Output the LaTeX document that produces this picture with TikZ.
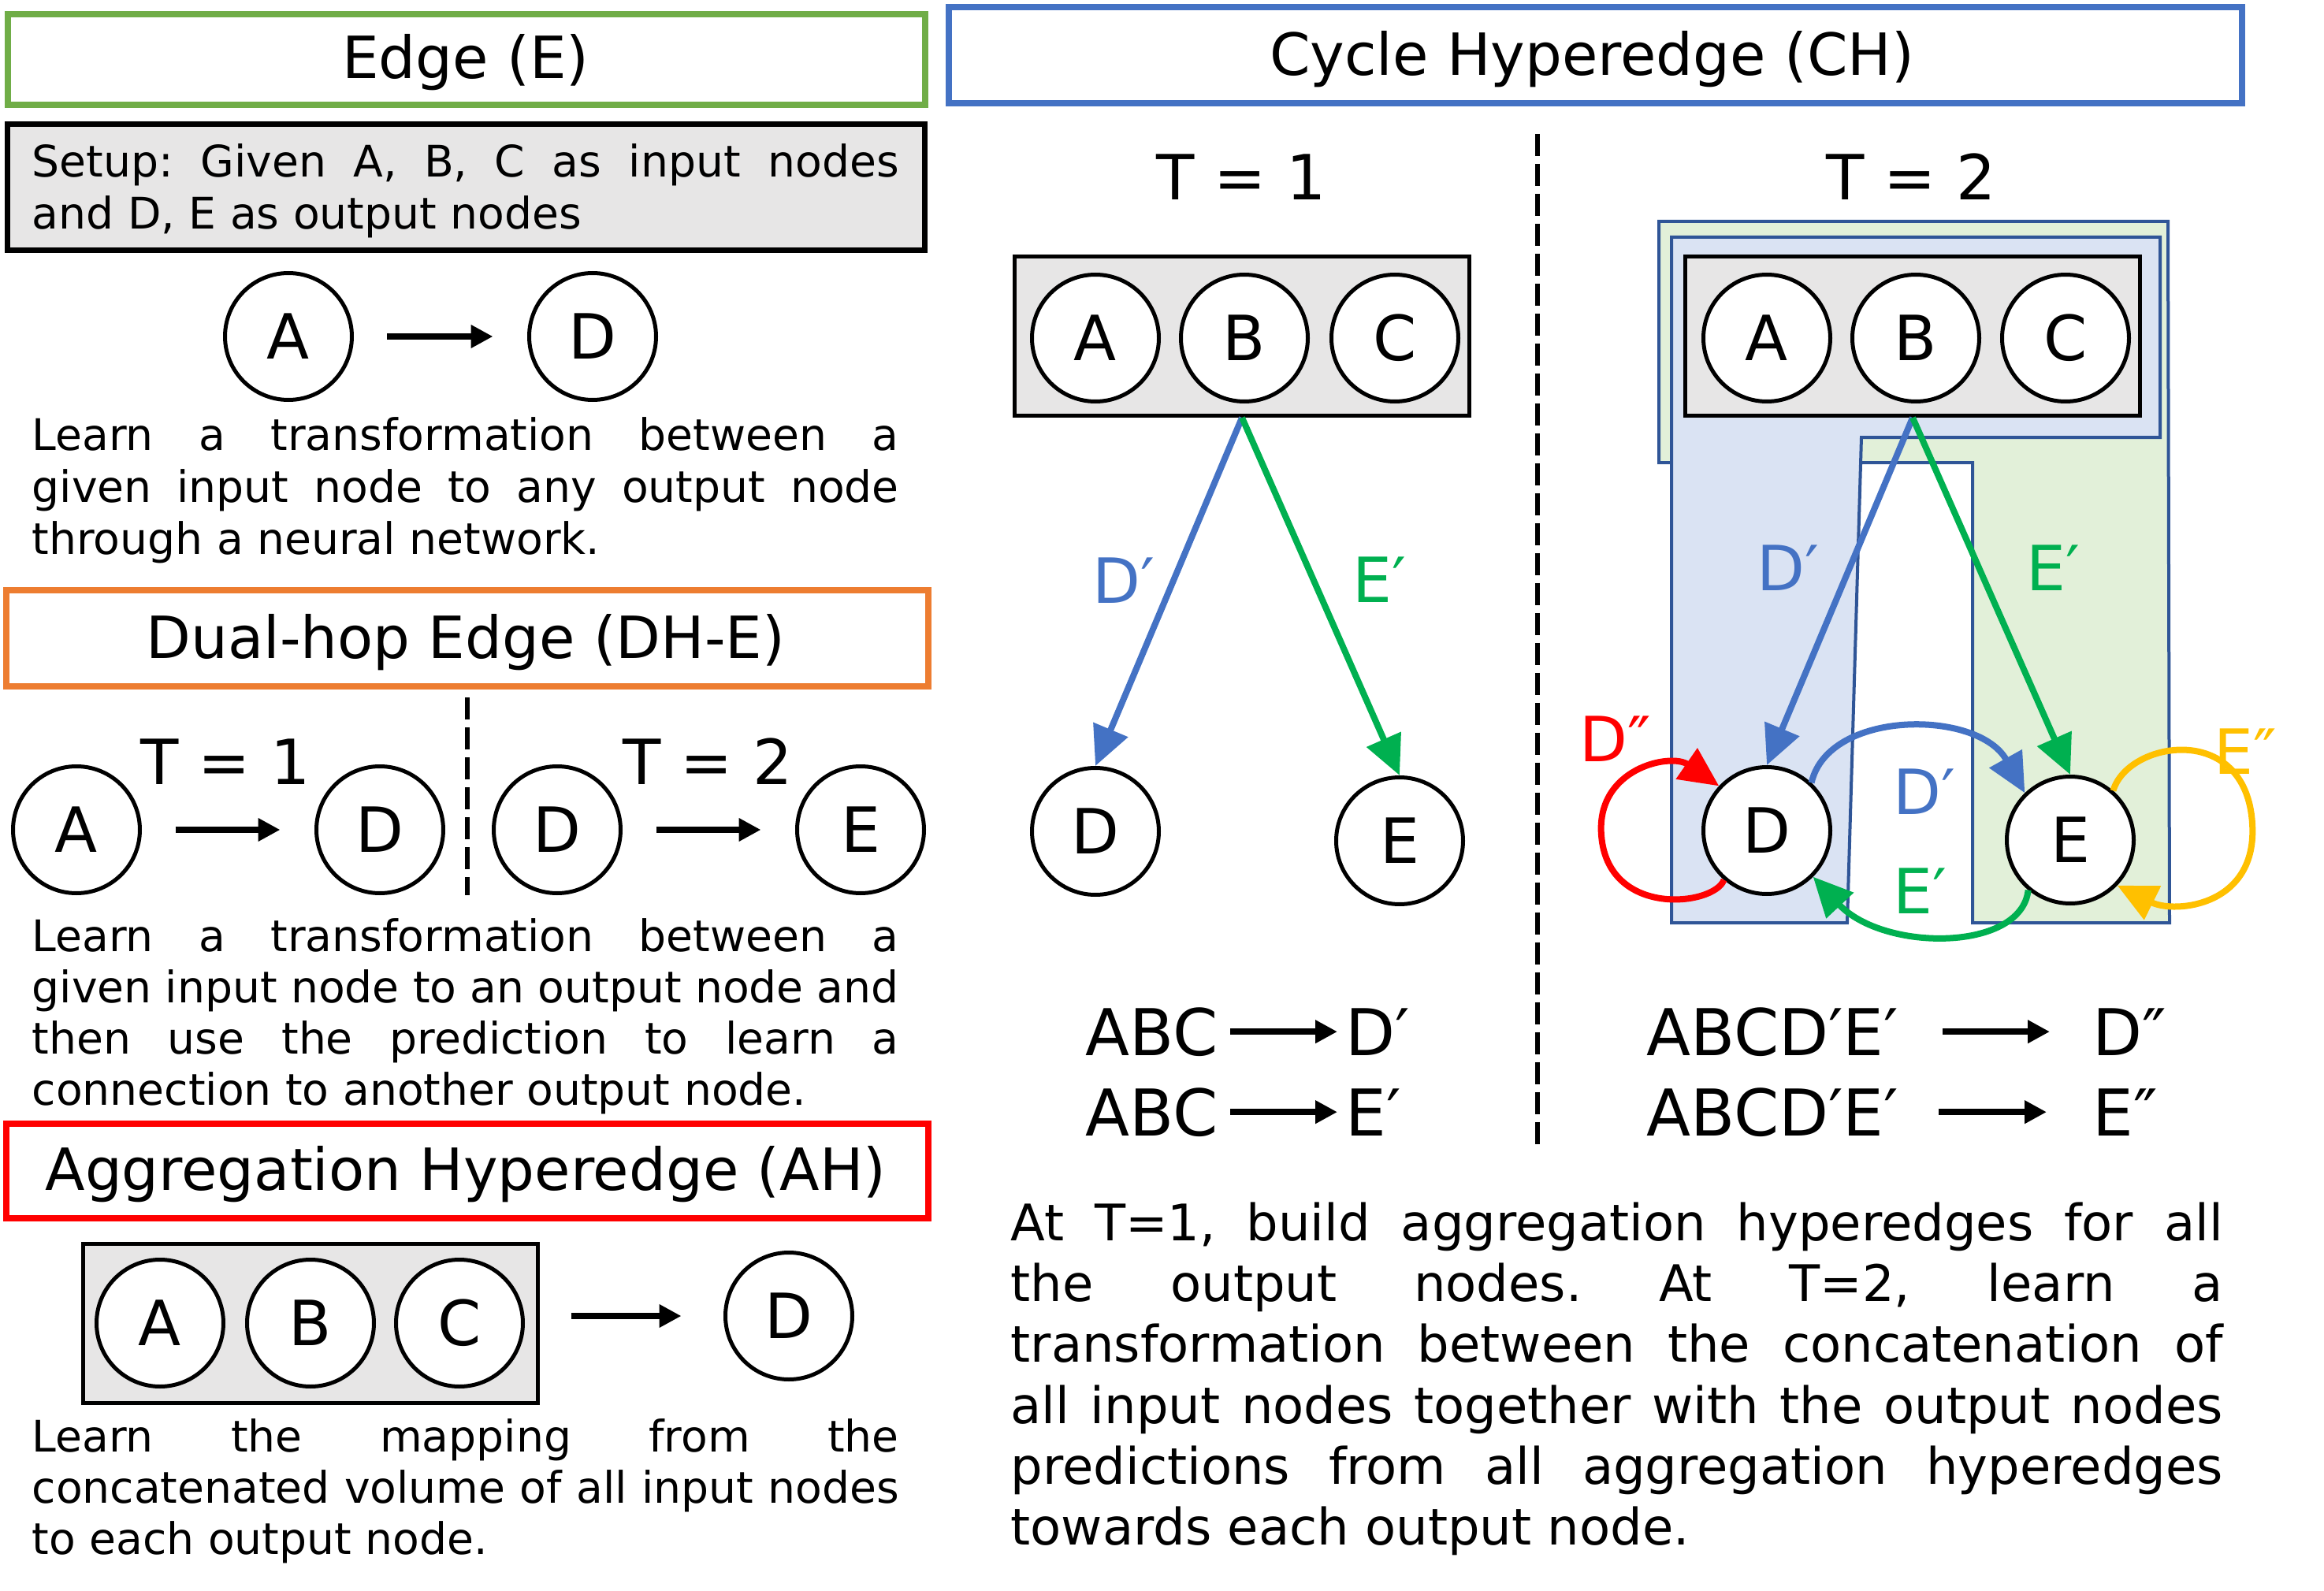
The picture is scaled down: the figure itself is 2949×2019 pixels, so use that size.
\documentclass[tikz,border=0pt]{standalone}
\usepackage{fontspec}
\setmainfont{DejaVu Sans}
\usetikzlibrary{arrows.meta,calc}
\frenchspacing
\definecolor{cgreen}{HTML}{70AD47}
\definecolor{corange}{HTML}{ED7D31}
\definecolor{cred}{HTML}{FF0000}
\definecolor{cblue}{HTML}{4472C4}
\definecolor{cborder}{HTML}{2F5597}
\definecolor{lblue}{HTML}{DAE3F3}
\definecolor{lgreen}{HTML}{E2F0D9}
\definecolor{agreen}{HTML}{00B050}
\definecolor{aorange}{HTML}{FFC000}
\definecolor{cgray}{HTML}{E7E6E6}
\newcommand{\fbody}{\fontsize{15.7}{18}\selectfont}
\newcommand{\fdesc}{\fontsize{18.2}{21}\selectfont}
\newcommand{\ftitle}{\fontsize{21}{25}\selectfont}
\newcommand{\fbig}{\fontsize{22.5}{27}\selectfont}
\newcommand{\fform}{\fontsize{23.3}{28}\selectfont}
\newcommand{\jline}[2]{\makebox[#1][s]{#2}}
\begin{document}
\begin{tikzpicture}[x=0.1mm,y=-0.1mm,
  tbox/.style={draw, line width=0.8mm, fill=white, inner sep=0pt},
  ttl/.style={anchor=base, inner sep=0pt, font=\ftitle},
  txt/.style={anchor=base west, inner sep=0pt, font=\fbody},
  dtxt/.style={anchor=base west, inner sep=0pt, font=\fdesc},
  circ/.style={circle, draw, line width=0.5mm, fill=white, minimum size=16.1mm, inner sep=0pt, font=\fbig},
  grect/.style={draw, line width=0.5mm, fill=cgray, inner sep=0pt, minimum width=57.7mm, minimum height=20.2mm},
  tlbl/.style={anchor=base, inner sep=0pt, font=\fbig},
  form/.style={inner sep=0pt, font=\fform},
  blackarrow/.style={line width=0.85mm, -{Triangle[length=2.8mm,width=2.8mm]}},
  colarrow/.style={line width=0.8mm, -{Triangle[length=5mm,width=4.6mm]}},
  dashline/.style={line width=0.55mm, dash pattern=on 2.8mm off 1mm},
  shapeborder/.style={draw=cborder, line width=0.4mm}]
\useasboundingbox (0,0) rectangle (2949,2019);

% ---------- Edge (E) ----------
\node[tbox, draw=cgreen, minimum width=116.4mm, minimum height=11.5mm] (boxE) at (592,75.5) {};
\node[ttl] (tE) at (591,100) {Edge (E)};
\node[tbox, draw=black, line width=0.7mm, fill=cgray, minimum width=116.4mm, minimum height=16mm] (setup) at (591.5,237.5) {};
\node[txt] (s1) at (40,225) {\jline{110mm}{Setup: Given A, B, C as input nodes}};
\node[txt] (s2) at (40,291) {and D, E as output nodes};
\node[circ] (eA) at (366,427) {A};
\node[circ] (eD) at (752,427) {D};
\draw[blackarrow, shorten <=4.2mm, shorten >=4.35mm] (eA) -- (eD);
\node[txt] (e1) at (40,571) {\jline{110mm}{Learn a transformation between a}};
\node[txt] (e2) at (40,637) {\jline{110mm}{given input node to any output node}};
\node[txt] (e3) at (40,703) {through a neural network.};

% ---------- Dual-hop Edge ----------
\node[tbox, draw=corange, minimum width=117mm, minimum height=12.2mm] (boxDH) at (593,810) {};
\node[ttl] (tDH) at (591,835) {Dual-hop Edge (DH-E)};
\draw[dashline] (593,885) -- (593,1136);
\node[circ] (dA) at (97,1053) {A};
\node[circ] (dD1) at (482,1053) {D};
\node[circ] (dD2) at (707,1053) {D};
\node[circ] (dE) at (1092,1053) {E};
\draw[blackarrow, shorten <=4.25mm, shorten >=4.35mm] (dA) -- (dD1);
\draw[blackarrow, shorten <=4.25mm, shorten >=4.35mm] (dD2) -- (dE);
\node[tlbl] (dT1) at (286,995) {T = 1};
\node[tlbl] (dT2) at (898,995) {T = 2};
\node[txt] (h1) at (40,1207) {\jline{110mm}{Learn a transformation between a}};
\node[txt] (h2) at (40,1272) {\jline{110mm}{given input node to an output node and}};
\node[txt] (h3) at (40,1337) {\jline{110mm}{then use the prediction to learn a}};
\node[txt] (h4) at (40,1402) {connection to another output node.};

% ---------- Aggregation Hyperedge ----------
\node[tbox, draw=cred, minimum width=117mm, minimum height=12mm] (boxAH) at (593,1486) {};
\node[ttl] (tAH) at (591,1510) {Aggregation Hyperedge (AH)};
\node[grect] (aR) at (394,1679) {};
\node[circ] (aA) at (203,1679) {A};
\node[circ] (aB) at (394,1679) {B};
\node[circ] (aC) at (583,1679) {C};
\node[circ] (aD) at (1001,1670) {D};
\draw[blackarrow, shorten <=3.95mm, shorten >=5.35mm] (aR.east |- aD.west) -- (aD.west);
\node[txt] (g1) at (40,1842) {\jline{110mm}{Learn the mapping from the}};
\node[txt] (g2) at (40,1907) {\jline{110mm}{concatenated volume of all input nodes}};
\node[txt] (g3) at (40,1972) {to each output node.};

% ---------- Cycle Hyperedge ----------
\node[tbox, draw=cblue, minimum width=164.1mm, minimum height=12.2mm] (boxCH) at (2024.5,70) {};
\node[ttl] (tCH) at (2020,96) {Cycle Hyperedge (CH)};
\draw[dashline] (1951,170) -- (1951,1453);
\node[tlbl] (cT1) at (1575,254) {T = 1};
\node[tlbl] (cT2) at (2425,254) {T = 2};

% T = 1
\node[grect] (r1) at (1576,426.5) {};
\node[circ] (c1A) at (1390,429) {A};
\node[circ] (c1B) at (1579,429) {B};
\node[circ] (c1C) at (1770,429) {C};
\node[circ] (c1D) at (1390,1055) {D};
\node[circ] (c1E) at (1776,1067) {E};
\draw[colarrow, cblue] (r1.south) -- (c1D.north);
\draw[colarrow, agreen] (r1.south) -- (c1E.north);
\node[tlbl, text=cblue] (l1D) at (1426,765) {D′};
\node[tlbl, text=agreen] (l1E) at (1750,764) {E′};

% T = 2
\draw[shapeborder, fill=lgreen] (2105,281) -- (2751,281) -- (2753,1171) -- (2503,1171) -- (2503,587) -- (2105,587) -- cycle;
\draw[shapeborder, fill=lblue] (2121,301) -- (2741,301) -- (2741,555) -- (2362,555) -- (2344,1171) -- (2121,1171) -- cycle;
\node[grect] (r2) at (2427,426.5) {};
\node[circ] (c2A) at (2242,429) {A};
\node[circ] (c2B) at (2431,429) {B};
\node[circ] (c2C) at (2621,429) {C};
\node[circ] (c2D) at (2242,1054) {D};
\node[circ] (c2E) at (2627,1066) {E};
\draw[colarrow, cblue] (r2.south) -- (c2D.north);
\draw[colarrow, agreen] (r2.south) -- (c2E.north);
\draw[colarrow, cblue] (c2D.47) .. controls (2320,900) and (2510,900) .. (c2E.134);
\draw[colarrow, agreen] (c2E.-130) .. controls (2565,1208) and (2390,1208) .. (c2D.-45);
\draw[colarrow, cred] (c2D.-131) .. controls (2175,1150) and (2040,1165) .. (2032,1060)
  .. controls (2025,975) and (2120,955) .. (c2D.137);
\draw[colarrow, aorange] (c2E.49) .. controls (2700,940) and (2850,915) .. (2858,1045)
  .. controls (2865,1150) and (2760,1160) .. (c2E.-44);
\node[tlbl, text=cblue] (l2D) at (2269,749) {D′};
\node[tlbl, text=agreen] (l2E) at (2605,749) {E′};
\node[tlbl, text=cblue] (l2Dm) at (2442,1033) {D′};
\node[tlbl, text=agreen] (l2Em) at (2436,1159) {E′};
\node[tlbl, text=cred] (l2DD) at (2050,966) {D″};
\node[tlbl, text=aorange] (l2EE) at (2849,982) {E″};

% formulas
\node[form, anchor=base east] (fa1) at (1546,1339) {ABC};
\node[form, anchor=base west] (fb1) at (1707,1339) {D′};
\draw[blackarrow, shorten <=1.5mm, shorten >=1mm] (fa1.east) -- (fa1.east -| fb1.west);
\node[form, anchor=base east] (fa2) at (1546,1441) {ABC};
\node[form, anchor=base west] (fb2) at (1707,1441) {E′};
\draw[blackarrow, shorten <=1.5mm, shorten >=1mm] (fa2.east) -- (fa2.east -| fb2.west);
\node[form, anchor=base east] (fc1) at (2410,1339) {ABCD′E′};
\node[form, anchor=base west] (fd1) at (2655,1339) {D″};
\draw[blackarrow, shorten <=5.5mm, shorten >=5.4mm] (fc1.east) -- (fc1.east -| fd1.west);
\node[form, anchor=base east] (fc2) at (2410,1441) {ABCD′E′};
\node[form, anchor=base west] (fd2) at (2655,1441) {E″};
\draw[blackarrow, shorten <=5.0mm, shorten >=5.8mm] (fc2.east) -- (fc2.east -| fd2.west);

% description
\node[dtxt] (k1) at (1282,1574) {\jline{153.8mm}{At T=1, build aggregation hyperedges for all}};
\node[dtxt] (k2) at (1282,1651) {\jline{153.8mm}{the output nodes. At T=2, learn a}};
\node[dtxt] (k3) at (1282,1728) {\jline{153.8mm}{transformation between the concatenation of}};
\node[dtxt] (k4) at (1282,1806) {\jline{153.8mm}{all input nodes together with the output nodes}};
\node[dtxt] (k5) at (1282,1883) {\jline{153.8mm}{predictions from all aggregation hyperedges}};
\node[dtxt] (k6) at (1282,1960) {towards each output node.};
\end{tikzpicture}
\end{document}
